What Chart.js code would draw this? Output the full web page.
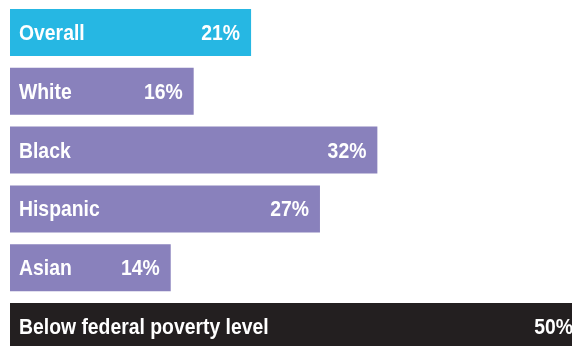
<!DOCTYPE html>
<html>
<head>
<meta charset="utf-8">
<script src="https://cdn.jsdelivr.net/npm/chart.js@4"></script>
<style>
  html, body { margin: 0; padding: 0; background: #fff; overflow: hidden; width: 572px; height: 346px; }
  #wrap { position: absolute; left: 0; top: 0; width: 584px; height: 356px; }
</style>
</head>
<body>
<div id="wrap"><canvas id="c" width="584" height="356"></canvas></div>
<script>
const categories = ["Overall", "White", "Black", "Hispanic", "Asian", "Below federal poverty level"];
const values = [21, 16, 32, 27, 14, 50];
const valueLabels = ["21%", "16%", "32%", "27%", "14%", "50%"];
const barColors = ["#26B7E3", "#8981BC", "#8981BC", "#8981BC", "#8981BC", "#231F20"];

const FONT = '"Liberation Sans", Arial, sans-serif';
const SQUEEZE = 0.88;

function drawCondensed(ctx, text, x, y, align) {
  ctx.save();
  ctx.translate(x, y);
  ctx.scale(SQUEEZE, 1);
  ctx.textAlign = align;
  ctx.fillText(text, 0, 0);
  ctx.restore();
}

const labelPlugin = {
  id: 'barLabels',
  afterDatasetsDraw(chart) {
    const ctx = chart.ctx;
    const meta = chart.getDatasetMeta(0);
    ctx.save();
    ctx.fillStyle = '#ffffff';
    ctx.font = 'bold 22px ' + FONT;
    ctx.textBaseline = 'alphabetic';
    meta.data.forEach((bar, i) => {
      const y = bar.y + 7.5;
      drawCondensed(ctx, categories[i], bar.base + 9, y, 'left');
      drawCondensed(ctx, valueLabels[i], bar.x - 11, y, 'right');
    });
    ctx.restore();
  }
};

new Chart(document.getElementById('c'), {
  type: 'bar',
  data: {
    labels: categories,
    datasets: [{
      data: values,
      backgroundColor: barColors,
      borderWidth: 0,
      categoryPercentage: 1.0,
      barPercentage: 0.8
    }]
  },
  options: {
    indexAxis: 'y',
    responsive: false,
    animation: false,
    layout: { padding: { left: 10, top: 3, right: 0, bottom: 0 } },
    plugins: { legend: { display: false }, tooltip: { enabled: false } },
    scales: {
      x: { display: false, min: 0, max: 50, grid: { display: false } },
      y: { display: false, grid: { display: false } }
    }
  },
  plugins: [labelPlugin]
});
</script>
</body>
</html>
